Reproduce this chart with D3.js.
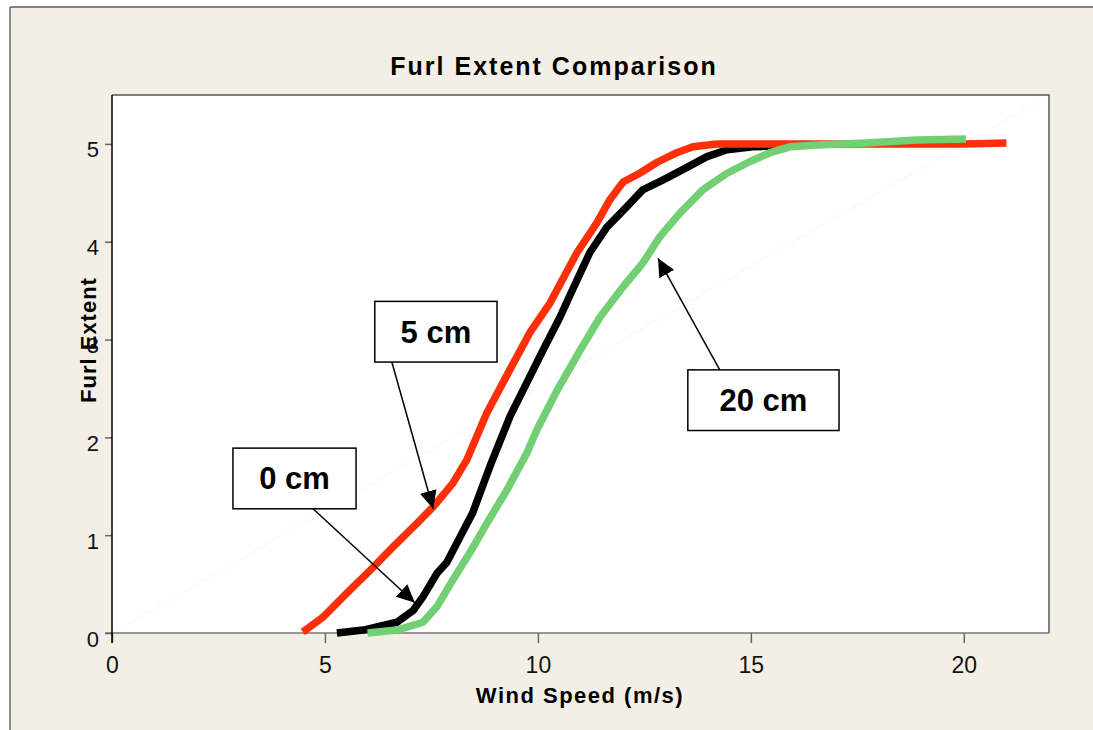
<!DOCTYPE html>
<html>
<head>
<meta charset="utf-8">
<script src="https://cdn.jsdelivr.net/npm/d3@7"></script>
<style>
  html, body { margin: 0; padding: 0; background: #ffffff; }
  svg { display: block; }
</style>
</head>
<body>
<svg id="chart" width="1093" height="730"></svg>
<script>
// Wind speed (m/s) and furl extent for each tail offset
const windSpeed0 = [5.28, 5.9, 6.69, 7.07, 7.3, 7.63, 7.86, 8.17, 8.47, 8.87, 9.34, 9.74, 10.12, 10.52, 10.75, 11.22, 11.62, 12.09, 12.46, 12.93, 13.5, 13.97, 14.44, 15.05, 15.6];
const furl0      = [0.0, 0.03, 0.11, 0.23, 0.37, 0.61, 0.72, 0.98, 1.23, 1.7, 2.21, 2.56, 2.89, 3.23, 3.45, 3.89, 4.15, 4.36, 4.53, 4.63, 4.76, 4.87, 4.94, 4.97, 4.98];

const windSpeed5 = [4.48, 4.95, 5.52, 6.06, 6.6, 7.16, 7.54, 8.0, 8.33, 8.8, 9.34, 9.81, 10.28, 10.5, 10.92, 11.38, 11.69, 12.0, 12.39, 12.79, 13.26, 13.64, 14.2, 15, 16, 17, 18, 19, 20, 21.0];
const furl5      = [0.01, 0.16, 0.41, 0.64, 0.88, 1.12, 1.29, 1.53, 1.77, 2.25, 2.69, 3.07, 3.37, 3.55, 3.89, 4.19, 4.43, 4.61, 4.70, 4.81, 4.91, 4.97, 5.0, 5.0, 5.0, 5.0, 5.0, 5.0, 5.0, 5.01];

const windSpeed20 = [6.0, 6.69, 7.3, 7.63, 8.0, 8.4, 8.8, 9.27, 9.74, 9.98, 10.45, 10.99, 11.46, 12.0, 12.46, 12.86, 13.33, 13.87, 14.44, 14.98, 15.45, 15.92, 16.55, 17.72, 18.9, 20.05];
const furl20      = [0.0, 0.03, 0.11, 0.27, 0.54, 0.82, 1.12, 1.46, 1.84, 2.08, 2.48, 2.89, 3.23, 3.54, 3.78, 4.05, 4.29, 4.53, 4.70, 4.82, 4.91, 4.97, 4.99, 5.01, 5.04, 5.05];

const xTicks = [0, 5, 10, 15, 20];
const yTicks = [0, 1, 2, 3, 4, 5];

// Callout labels: box corners and arrow (from -> to) in data units
const calloutLabels = ["5 cm", "0 cm", "20 cm"];
const calloutBoxes  = [[6.17, 3.39, 9.04, 2.77], [2.84, 1.89, 5.73, 1.27], [13.52, 2.69, 17.07, 2.07]];
const calloutArrows = [[6.57, 2.77, 7.54, 1.27], [4.72, 1.27, 7.11, 0.31], [14.27, 2.69, 12.82, 3.83]];

const series = [
  { name: "0 cm",  xs: windSpeed0,  ys: furl0,  color: "#000000" },
  { name: "5 cm",  xs: windSpeed5,  ys: furl5,  color: "#ff2f0a" },
  { name: "20 cm", xs: windSpeed20, ys: furl20, color: "#72cf74" }
];

const svg = d3.select("#chart");
const W = 1093, H = 730;
const plot = { left: 112, top: 95, right: 1049, bottom: 633 };

const x = d3.scaleLinear().domain([0, 22]).range([plot.left, plot.right]);
const y = d3.scaleLinear().domain([0, 5.5]).range([plot.bottom, plot.top]);

const axisFont = "'Liberation Sans', Arial, sans-serif";

// Chart area background and frame
svg.append("rect").attr("x", 10).attr("y", 7).attr("width", W - 10).attr("height", H - 7)
  .attr("fill", "#f3efe7");
svg.append("line").attr("x1", 10).attr("y1", 7).attr("x2", W).attr("y2", 7)
  .attr("stroke", "#5a5a5a").attr("stroke-width", 1.5);
svg.append("line").attr("x1", 10).attr("y1", 7).attr("x2", 10).attr("y2", H)
  .attr("stroke", "#6a6a6a").attr("stroke-width", 1.5);

// Plot area
svg.append("rect")
  .attr("x", plot.left).attr("y", plot.top)
  .attr("width", plot.right - plot.left).attr("height", plot.bottom - plot.top)
  .attr("fill", "#ffffff");

// faint diagonal across the plot area
svg.append("line")
  .attr("x1", x(0)).attr("y1", y(0)).attr("x2", x(22)).attr("y2", y(5.5))
  .attr("stroke", "#f6f6f6").attr("stroke-width", 1);

// plot border: top and right
svg.append("path")
  .attr("d", `M${plot.left},${plot.top}H${plot.right}V${plot.bottom}`)
  .attr("fill", "none").attr("stroke", "#555").attr("stroke-width", 1.5);

// X axis
const xAxis = svg.append("g").attr("transform", `translate(0,${plot.bottom})`)
  .call(d3.axisBottom(x).tickValues(xTicks).tickSize(10).tickFormat(d3.format("d")));
xAxis.select(".domain").remove();
xAxis.selectAll(".tick line").attr("stroke", "#666").attr("stroke-width", 1.5);
xAxis.selectAll(".tick text")
  .attr("y", 40).attr("dy", 0)
  .attr("fill", "#111").style("font-family", axisFont).style("font-size", "23px");
svg.append("line")
  .attr("x1", plot.left - 7).attr("x2", plot.right)
  .attr("y1", plot.bottom).attr("y2", plot.bottom)
  .attr("stroke", "#777").attr("stroke-width", 1.5);

// Y axis
const yAxis = svg.append("g").attr("transform", `translate(${plot.left},0)`)
  .call(d3.axisLeft(y).tickValues(yTicks).tickSize(7).tickFormat(d3.format("d")));
yAxis.select(".domain").remove();
yAxis.selectAll(".tick line").attr("stroke", "#666").attr("stroke-width", 1.5);
yAxis.selectAll(".tick text")
  .attr("x", -13).attr("dy", 13)
  .attr("fill", "#111").style("font-family", axisFont).style("font-size", "22px");
svg.append("line")
  .attr("x1", plot.left).attr("x2", plot.left)
  .attr("y1", plot.top).attr("y2", plot.bottom + 10)
  .attr("stroke", "#000").attr("stroke-width", 1.5);

// Curves
const line = d3.line()
  .x(d => x(d[0]))
  .y(d => y(d[1]))
  .curve(d3.curveLinear);

svg.append("g").selectAll("path")
  .data(series)
  .join("path")
  .attr("d", s => line(s.xs.map((v, i) => [v, s.ys[i]])))
  .attr("fill", "none")
  .attr("stroke", s => s.color)
  .attr("stroke-width", 7.5)
  .attr("stroke-linejoin", "round")
  .attr("stroke-linecap", "butt");

// Titles
svg.append("text")
  .attr("x", 554).attr("y", 75)
  .attr("text-anchor", "middle")
  .style("font-family", axisFont).style("font-weight", "bold")
  .style("font-size", "25px").style("letter-spacing", "2px")
  .attr("fill", "#000")
  .text("Furl Extent Comparison");

svg.append("text")
  .attr("x", 580).attr("y", 703)
  .attr("text-anchor", "middle")
  .style("font-family", axisFont).style("font-weight", "bold")
  .style("font-size", "22px").style("letter-spacing", "1.5px")
  .attr("fill", "#000")
  .text("Wind Speed (m/s)");

svg.append("text")
  .attr("transform", "translate(96,340) rotate(-90)")
  .attr("text-anchor", "middle")
  .style("font-family", axisFont).style("font-weight", "bold")
  .style("font-size", "22px").style("letter-spacing", "1px")
  .attr("fill", "#000")
  .text("Furl Extent");

// Arrowhead marker
svg.append("defs").append("marker")
  .attr("id", "arrowhead")
  .attr("viewBox", "0 0 10 10")
  .attr("refX", 10).attr("refY", 5)
  .attr("markerWidth", 18).attr("markerHeight", 17)
  .attr("markerUnits", "userSpaceOnUse")
  .attr("preserveAspectRatio", "none")
  .attr("orient", "auto")
  .append("path")
  .attr("d", "M0,0L10,5L0,10Z")
  .attr("fill", "#000");

// Callouts
const callouts = svg.append("g");
calloutLabels.forEach((label, i) => {
  const [bx0, by0, bx1, by1] = calloutBoxes[i];
  const [ax0, ay0, ax1, ay1] = calloutArrows[i];
  callouts.append("line")
    .attr("x1", x(ax0)).attr("y1", y(ay0))
    .attr("x2", x(ax1)).attr("y2", y(ay1))
    .attr("stroke", "#000").attr("stroke-width", 1.5)
    .attr("marker-end", "url(#arrowhead)");
  callouts.append("rect")
    .attr("x", x(bx0)).attr("y", y(by0))
    .attr("width", x(bx1) - x(bx0)).attr("height", y(by1) - y(by0))
    .attr("fill", "#fff").attr("stroke", "#000").attr("stroke-width", 1.5);
  callouts.append("text")
    .attr("x", (x(bx0) + x(bx1)) / 2)
    .attr("y", (y(by0) + y(by1)) / 2 + 11)
    .attr("text-anchor", "middle")
    .style("font-family", axisFont).style("font-weight", "bold")
    .style("font-size", "31px")
    .attr("fill", "#000")
    .text(label);
});
</script>
</body>
</html>
